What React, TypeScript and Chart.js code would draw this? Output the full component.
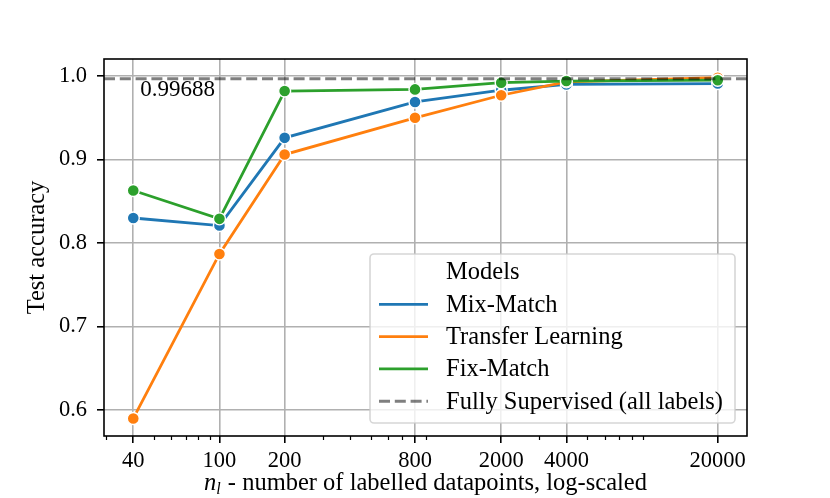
import React, { useRef, useEffect } from 'react';
import { Chart, registerables } from 'chart.js';

Chart.register(...registerables);

// number of labelled datapoints (x, log scale)
const sizes = [40, 100, 200, 800, 2000, 4000, 20000];
const mixMatch = [0.830, 0.821, 0.926, 0.969, 0.983, 0.990, 0.991];
const transferLearning = [0.590, 0.787, 0.906, 0.950, 0.977, 0.993, 0.998];
const fixMatch = [0.863, 0.829, 0.982, 0.984, 0.992, 0.994, 0.995];
const fullySupervised = 0.99688;
const yTicks = [0.6, 0.7, 0.8, 0.9, 1.0];
const minorTicks = [30, 50, 60, 70, 80, 90, 300, 400, 500, 600, 700, 900, 3000, 5000, 6000, 7000, 8000, 9000];

const FONT = "'Liberation Serif', 'Times New Roman', serif";
const TEXT_SIZE = 24.5;
const BLUE = '#1f77b4';
const ORANGE = '#ff7f0e';
const GREEN = '#2ca02c';
const DASH_COLOR = 'rgba(0,0,0,0.5)';
const DASH = [11, 4.8];

const series = [
  { label: 'Mix-Match', values: mixMatch, color: BLUE, order: 3 },
  { label: 'Transfer Learning', values: transferLearning, color: ORANGE, order: 2 },
  { label: 'Fix-Match', values: fixMatch, color: GREEN, order: 1 },
];

const decorPlugin = {
  id: 'decor',
  afterDatasetsDraw(chart: any) {
    const { ctx, chartArea: a, scales } = chart;
    const xs = scales.x;
    const ys = scales.y;

    // fully supervised reference line
    const yl = ys.getPixelForValue(fullySupervised);
    ctx.save();
    ctx.beginPath();
    ctx.rect(a.left, a.top, a.right - a.left, a.bottom - a.top);
    ctx.clip();
    ctx.strokeStyle = DASH_COLOR;
    ctx.lineWidth = 3;
    ctx.setLineDash(DASH);
    ctx.beginPath();
    ctx.moveTo(a.left, yl);
    ctx.lineTo(a.right, yl);
    ctx.stroke();
    ctx.restore();

    ctx.save();
    ctx.fillStyle = 'black';
    ctx.font = `23px ${FONT}`;
    ctx.textAlign = 'left';
    ctx.textBaseline = 'alphabetic';
    ctx.fillText(String(fullySupervised), xs.getPixelForValue(sizes[0]) + 7, yl + 17);
    ctx.restore();

    // spines
    ctx.save();
    ctx.strokeStyle = 'black';
    ctx.lineWidth = 1.6;
    ctx.strokeRect(a.left, a.top, a.right - a.left, a.bottom - a.top);

    // minor ticks
    ctx.lineWidth = 1.2;
    ctx.beginPath();
    minorTicks.forEach((v) => {
      const px = Math.round(xs.getPixelForValue(v)) + 0.5;
      ctx.moveTo(px, a.bottom);
      ctx.lineTo(px, a.bottom + 4);
    });
    ctx.stroke();
    ctx.restore();
  },
  afterDraw(chart: any) {
    const { ctx, chartArea: a } = chart;
    ctx.save();
    ctx.fillStyle = 'black';

    // x title: n_l - number of labelled datapoints, log-scaled
    const rest = ' - number of labelled datapoints, log-scaled';
    ctx.font = `italic ${TEXT_SIZE}px ${FONT}`;
    const wn = ctx.measureText('n').width;
    ctx.font = `italic 16px ${FONT}`;
    const wl = ctx.measureText('l').width + 1;
    ctx.font = `${TEXT_SIZE}px ${FONT}`;
    const wr = ctx.measureText(rest).width;
    const total = wn + wl + wr;
    let x0 = (a.left + a.right) / 2 - total / 2;
    const base = 490;
    ctx.textAlign = 'left';
    ctx.textBaseline = 'alphabetic';
    ctx.font = `italic ${TEXT_SIZE}px ${FONT}`;
    ctx.fillText('n', x0, base);
    x0 += wn;
    ctx.font = `italic 16px ${FONT}`;
    ctx.fillText('l', x0, base + 4);
    x0 += wl;
    ctx.font = `${TEXT_SIZE}px ${FONT}`;
    ctx.fillText(rest, x0, base);

    // y title
    ctx.save();
    ctx.translate(44, (a.top + a.bottom) / 2);
    ctx.rotate(-Math.PI / 2);
    ctx.textAlign = 'center';
    ctx.fillText('Test accuracy', 0, 0);
    ctx.restore();

    // legend box
    const lx = 370, ly = 254, lw = 365, lh = 169, r = 4;
    ctx.beginPath();
    ctx.moveTo(lx + r, ly);
    ctx.arcTo(lx + lw, ly, lx + lw, ly + lh, r);
    ctx.arcTo(lx + lw, ly + lh, lx, ly + lh, r);
    ctx.arcTo(lx, ly + lh, lx, ly, r);
    ctx.arcTo(lx, ly, lx + lw, ly, r);
    ctx.closePath();
    ctx.fillStyle = 'rgba(255,255,255,0.8)';
    ctx.fill();
    ctx.strokeStyle = 'rgba(204,204,204,0.8)';
    ctx.lineWidth = 1.6;
    ctx.stroke();

    const entries = [
      { label: 'Models', color: null as string | null, dashed: false },
      ...series.map((s) => ({ label: s.label, color: s.color as string | null, dashed: false })),
      { label: 'Fully Supervised (all labels)', color: DASH_COLOR, dashed: true },
    ];
    const textX = 446;
    const rowY0 = 272;
    const rowH = 32.3;
    ctx.textBaseline = 'middle';
    ctx.textAlign = 'left';
    entries.forEach((e, i) => {
      const cy = rowY0 + i * rowH;
      if (e.color) {
        ctx.save();
        ctx.strokeStyle = e.color;
        ctx.lineWidth = e.dashed ? 3 : 2.8;
        ctx.setLineDash(e.dashed ? DASH : []);
        ctx.beginPath();
        ctx.moveTo(379, cy);
        ctx.lineTo(428, cy);
        ctx.stroke();
        ctx.restore();
      }
      ctx.fillStyle = 'black';
      ctx.font = `${TEXT_SIZE}px ${FONT}`;
      ctx.fillText(e.label, textX, cy + 1);
    });
    ctx.restore();
  },
};

const App: React.FC = () => {
  const canvasRef = useRef<HTMLCanvasElement>(null);

  useEffect(() => {
    if (!canvasRef.current) return;
    const tickFont = { family: FONT, size: 22.5 };
    const chart = new Chart(canvasRef.current, {
      type: 'line',
      data: {
        datasets: series.map((s) => ({
          label: s.label,
          data: sizes.map((x, i) => ({ x, y: s.values[i] })),
          borderColor: s.color,
          backgroundColor: s.color,
          borderWidth: 2.8,
          pointRadius: 6,
          pointBorderWidth: 1.4,
          pointBorderColor: '#ffffff',
          pointBackgroundColor: s.color,
          tension: 0,
          fill: false,
          order: s.order,
        })),
      },
      options: {
        animation: false,
        responsive: true,
        maintainAspectRatio: false,
        layout: { padding: { top: 59, right: 83, left: 0, bottom: 0 } },
        plugins: {
          legend: { display: false },
          tooltip: { enabled: false },
        },
        scales: {
          x: {
            type: 'logarithmic',
            min: 29.3,
            max: 27300,
            afterBuildTicks: (s: any) => {
              s.ticks = sizes.map((v) => ({ value: v }));
            },
            afterFit: (s: any) => {
              s.height = 62;
            },
            ticks: {
              callback: (v: any) => String(v),
              font: tickFont,
              color: 'black',
              padding: 5,
              maxRotation: 0,
              autoSkip: false,
            },
            grid: {
              color: '#b0b0b0',
              lineWidth: 1.6,
              tickColor: 'black',
              tickLength: 7,
              tickWidth: 1.6,
            },
            border: { display: false },
          },
          y: {
            min: 0.569,
            max: 1.0204,
            afterBuildTicks: (s: any) => {
              s.ticks = yTicks.map((v) => ({ value: v }));
            },
            afterFit: (s: any) => {
              s.width = 104;
            },
            ticks: {
              callback: (v: any) => Number(v).toFixed(1),
              font: tickFont,
              color: 'black',
              padding: 10,
            },
            grid: {
              color: '#b0b0b0',
              lineWidth: 1.6,
              tickColor: 'black',
              tickLength: 7,
              tickWidth: 1.6,
            },
            border: { display: false },
          },
        },
      } as any,
      plugins: [decorPlugin],
    });
    return () => chart.destroy();
  }, []);

  return (
    <div style={{ position: 'absolute', left: 0, top: 0, width: 830, height: 498, background: '#ffffff' }}>
      <canvas ref={canvasRef} />
    </div>
  );
};

export default App;
